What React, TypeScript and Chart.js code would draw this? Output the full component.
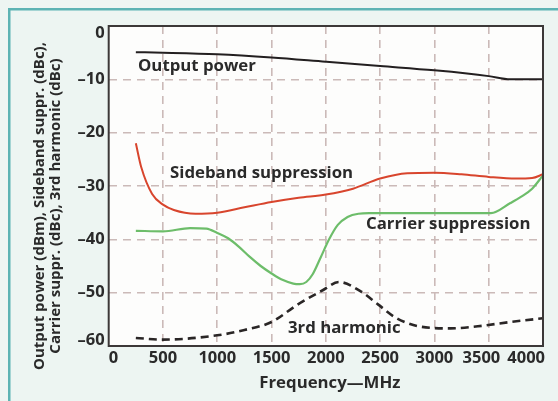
import React, { useEffect, useRef } from "react";
import { Chart, registerables } from "chart.js";

Chart.register(...registerables);

const xTicks = [0, 500, 1000, 1500, 2000, 2500, 3000, 3500, 4000];
const yTicks = [0, -10, -20, -30, -40, -50, -60];

const outFreq = [250, 500, 1000, 1500, 2000, 2500, 3000, 3300, 3500, 3700, 4000];
const outPower = [-4.9, -5.0, -5.3, -5.9, -6.7, -7.5, -8.3, -8.9, -9.4, -10.0, -10.0];

const sbFreq = [250, 300, 400, 500, 600, 800, 1000, 1250, 1500, 1750, 2000, 2250, 2500, 2750, 3000, 3250, 3500, 3750, 3900, 4000];
const sideband = [-22, -26.5, -31.5, -33.5, -34.5, -35.2, -35, -34, -33, -32.2, -31.6, -30.5, -28.6, -27.6, -27.5, -27.8, -28.3, -28.6, -28.5, -27.8];

const csFreq = [250, 500, 750, 900, 1000, 1100, 1200, 1300, 1400, 1500, 1600, 1700, 1760, 1820, 1880, 1950, 2030, 2110, 2200, 2300, 2400, 3000, 3520, 3700, 3800, 3900, 4000];
const carrier = [-38.4, -38.5, -37.9, -38, -38.8, -39.8, -41.4, -43.3, -45, -46.4, -47.6, -48.3, -48.4, -48, -46.5, -43.5, -40, -37.3, -35.8, -35.2, -35.1, -35.1, -35.1, -33.2, -32, -30.5, -28];

const hFreq = [250, 500, 1000, 1250, 1500, 1735, 1975, 2120, 2325, 2480, 2635, 2750, 2850, 3150, 3400, 3700, 4000];
const harmonic = [-58.5, -58.8, -58, -57, -55.5, -52.3, -49.5, -48, -49.8, -52.2, -54.6, -55.7, -56.3, -56.7, -56.3, -55.5, -54.8];

const labelTexts = ["Output power", "Sideband suppression", "Carrier suppression", "3rd harmonic"];
const labelFreq = [270, 565, 2370, 1651];
const labelDb = [-7.5, -27.6, -37.1, -56.6];

const yTitleLines = ["Output power (dBm), Sideband suppr. (dBc),", "Carrier suppr. (dBc), 3rd harmonic (dBc)"];
const xTitle = "Frequency\u2014MHz";

const FONT = "'Open Sans', 'DejaVu Sans', sans-serif";
const TEXT = "#2a2a2a";

const pts = (xs: number[], ys: number[]) => xs.map((x, i) => ({ x, y: ys[i] }));
const yLabel = (v: number) => (v < 0 ? "\u2013" + Math.abs(v) : String(v));

const framePlugin = {
  id: "frame",
  beforeDraw(chart: any) {
    const { ctx, width, height, chartArea } = chart;
    ctx.save();
    ctx.fillStyle = "#edf5f2";
    ctx.fillRect(0, 0, width, height);
    ctx.fillStyle = "#5cb3b3";
    ctx.fillRect(8, 8, width - 8, 2.5);
    ctx.fillRect(8, 8, 2.5, height - 8);
    ctx.fillStyle = "#fdfdfc";
    ctx.fillRect(chartArea.left, chartArea.top, chartArea.right - chartArea.left, chartArea.bottom - chartArea.top);
    ctx.restore();
  },
  afterDraw(chart: any) {
    const { ctx, chartArea, scales } = chart;
    ctx.save();
    ctx.strokeStyle = "#3c3838";
    ctx.lineWidth = 2;
    ctx.strokeRect(chartArea.left, chartArea.top, chartArea.right - chartArea.left, chartArea.bottom - chartArea.top);

    ctx.fillStyle = TEXT;
    // x tick labels (kept inside the plot width, spaced without overlap)
    ctx.font = `bold 16.5px ${FONT}`;
    ctx.textBaseline = "middle";
    ctx.textAlign = "center";
    const items = xTicks.map((v) => {
      const t = String(v);
      return { t, w: ctx.measureText(t).width, c: scales.x.getPixelForValue(v) };
    });
    items[0].c = Math.max(items[0].c, chartArea.left + items[0].w / 2);
    const last = items[items.length - 1];
    last.c = Math.min(last.c, chartArea.right + 2 - last.w / 2);
    for (let i = items.length - 2; i >= 0; i--) {
      const maxC = items[i + 1].c - items[i + 1].w / 2 - 7 - items[i].w / 2;
      if (items[i].c > maxC) items[i].c = maxC;
    }
    items.forEach((it) => ctx.fillText(it.t, it.c, chartArea.bottom + 12));

    // y tick labels (kept inside the plot height)
    ctx.textAlign = "right";
    yTicks.forEach((v) => {
      let y = scales.y.getPixelForValue(v);
      y = Math.min(Math.max(y, chartArea.top + 7), chartArea.bottom - 6);
      ctx.fillText(yLabel(v), chartArea.left - 4, y);
    });

    // annotations
    ctx.font = `bold 16.8px ${FONT}`;
    ctx.textAlign = "left";
    labelTexts.forEach((t, i) => {
      ctx.fillText(t, scales.x.getPixelForValue(labelFreq[i]), scales.y.getPixelForValue(labelDb[i]));
    });
    // x title
    ctx.font = `bold 16.8px ${FONT}`;
    ctx.textAlign = "center";
    ctx.fillText(xTitle, (chartArea.left + chartArea.right) / 2 + 4, 383);
    // y title
    ctx.font = `bold 15px ${FONT}`;
    ctx.translate(0, 206);
    ctx.rotate(-Math.PI / 2);
    ctx.fillText(yTitleLines[0], 0, 40);
    ctx.fillText(yTitleLines[1], 0, 56);
    ctx.restore();
  },
};

export default function App() {
  const ref = useRef<HTMLCanvasElement | null>(null);
  useEffect(() => {
    if (!ref.current) return;
    const lineBase = { fill: false, pointRadius: 0, cubicInterpolationMode: "monotone" as const, borderWidth: 2 };
    const chart = new Chart(ref.current, {
      type: "line",
      data: {
        datasets: [
          { ...lineBase, label: "Output power", data: pts(outFreq, outPower), borderColor: "#231f20" },
          { ...lineBase, label: "Sideband suppression", data: pts(sbFreq, sideband), borderColor: "#d8452d" },
          { ...lineBase, label: "Carrier suppression", data: pts(csFreq, carrier), borderColor: "#6dbd6a", borderWidth: 2.2 },
          { ...lineBase, label: "3rd harmonic", data: pts(hFreq, harmonic), borderColor: "#2a2626", borderWidth: 2.6, borderDash: [8, 5] },
        ],
      },
      options: {
        animation: false,
        responsive: false,
        events: [],
        layout: { padding: { left: 0, right: 15, top: 26, bottom: 0 } },
        plugins: { legend: { display: false }, tooltip: { enabled: false } },
        scales: {
          x: {
            type: "linear",
            min: 0,
            max: 4000,
            afterBuildTicks: (s: any) => { s.ticks = xTicks.map((v) => ({ value: v })); },
            afterFit: (s: any) => { s.height = 55; s.paddingLeft = 0; s.paddingRight = 0; },
            border: { display: false, dash: [8, 6] },
            grid: {
              color: (c: any) => (c.tick && (c.tick.value === 0 || c.tick.value === 4000) ? "rgba(0,0,0,0)" : "#cbbab8"),
              lineWidth: 1.6,
              drawTicks: false,
            },
            ticks: { display: false, autoSkip: false },
          },
          y: {
            type: "linear",
            min: -60,
            max: 0,
            afterBuildTicks: (s: any) => { s.ticks = yTicks.map((v) => ({ value: v })); },
            afterFit: (s: any) => { s.width = 108.7; s.paddingTop = 0; s.paddingBottom = 0; },
            border: { display: false, dash: [8, 6] },
            grid: {
              color: (c: any) => (c.tick && (c.tick.value === 0 || c.tick.value === -60) ? "rgba(0,0,0,0)" : "#cbbab8"),
              lineWidth: 1.6,
              drawTicks: false,
            },
            ticks: { display: false, autoSkip: false },
          },
        },
      },
      plugins: [framePlugin],
    } as any);
    return () => chart.destroy();
  }, []);
  return (
    <div style={{ position: "absolute", left: 0, top: 0, width: 558, height: 401 }}>
      <canvas ref={ref} width={558} height={401} style={{ display: "block", width: 558, height: 401 }} />
    </div>
  );
}
